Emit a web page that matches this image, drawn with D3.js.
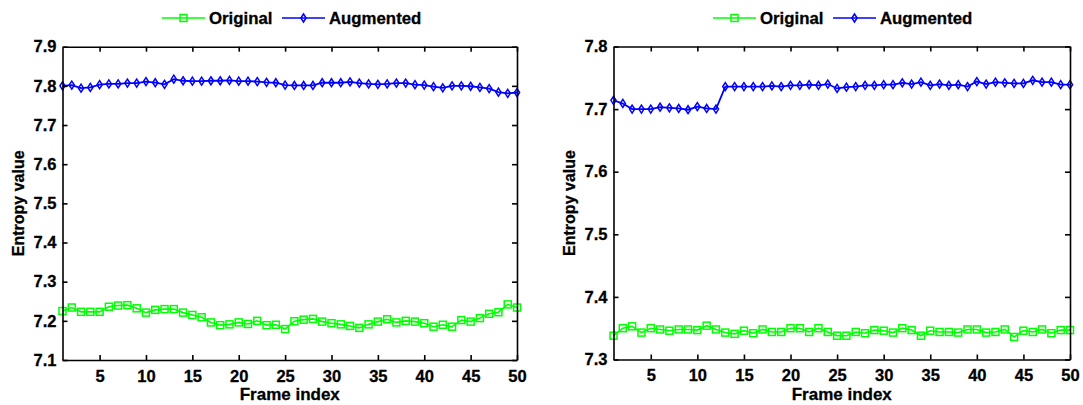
<!DOCTYPE html>
<html>
<head>
<meta charset="utf-8">
<script src="https://cdn.jsdelivr.net/npm/d3@7"></script>
<style>
  html, body { margin: 0; padding: 0; background: #fff; }
  svg { display: block; }
  text { font-family: "Liberation Sans", Arial, sans-serif; font-weight: bold; fill: #000; }
</style>
</head>
<body>
<svg id="chart" width="1083" height="405"></svg>
<script>
// Frame indices 1..50
const frames = [1,2,3,4,5,6,7,8,9,10,11,12,13,14,15,16,17,18,19,20,21,22,23,24,25,
                26,27,28,29,30,31,32,33,34,35,36,37,38,39,40,41,42,43,44,45,46,47,48,49,50];
const xTicks = [5,10,15,20,25,30,35,40,45,50];

// Sequence A: entropy per frame
const leftOriginal = [7.225,7.234,7.223,7.223,7.223,7.236,7.239,7.240,7.232,7.221,
                      7.228,7.230,7.230,7.221,7.215,7.209,7.196,7.189,7.191,7.196,
                      7.192,7.200,7.189,7.190,7.179,7.199,7.203,7.205,7.198,7.194,
                      7.191,7.187,7.182,7.191,7.198,7.204,7.196,7.200,7.198,7.194,
                      7.185,7.190,7.185,7.202,7.198,7.207,7.218,7.222,7.242,7.234];
const leftAugmented = [7.800,7.802,7.794,7.796,7.803,7.805,7.805,7.807,7.807,7.811,
                       7.808,7.804,7.817,7.813,7.812,7.812,7.813,7.813,7.814,7.812,
                       7.812,7.811,7.809,7.808,7.802,7.801,7.801,7.801,7.808,7.808,
                       7.808,7.810,7.807,7.805,7.804,7.805,7.807,7.807,7.803,7.802,
                       7.798,7.795,7.800,7.800,7.799,7.796,7.793,7.784,7.781,7.783];
const leftYTicks = [7.1,7.2,7.3,7.4,7.5,7.6,7.7,7.8,7.9];

// Sequence B: entropy per frame
const rightOriginal = [7.338,7.350,7.353,7.343,7.350,7.348,7.346,7.348,7.348,7.347,
                       7.354,7.348,7.343,7.341,7.346,7.342,7.348,7.344,7.344,7.350,
                       7.350,7.344,7.350,7.344,7.338,7.338,7.344,7.342,7.347,7.346,
                       7.343,7.350,7.347,7.338,7.346,7.344,7.344,7.343,7.348,7.348,
                       7.343,7.344,7.348,7.336,7.346,7.344,7.348,7.342,7.347,7.347];
const rightAugmented = [7.714,7.709,7.700,7.700,7.700,7.703,7.702,7.701,7.699,7.704,
                        7.701,7.700,7.736,7.736,7.736,7.736,7.736,7.737,7.736,7.738,
                        7.738,7.739,7.738,7.740,7.733,7.735,7.736,7.738,7.738,7.739,
                        7.739,7.742,7.740,7.743,7.738,7.740,7.738,7.739,7.736,7.744,
                        7.740,7.743,7.742,7.741,7.741,7.746,7.743,7.743,7.739,7.739];
const rightYTicks = [7.3,7.4,7.5,7.6,7.7,7.8];

const seriesNames = ["Original", "Augmented"];
const seriesColors = ["#00ff00", "#0000ff"];

const svg = d3.select("#chart");

function drawPanel(cfg) {
  const g = svg.append("g");
  const x = d3.scaleLinear().domain([1, 50]).range([cfg.left, cfg.right]);
  const y = d3.scaleLinear().domain(cfg.yDomain).range([cfg.bottom, cfg.top]);

  // data lines and markers
  const line = d3.line().x((d, i) => x(frames[i])).y(d => y(d));

  const orig = g.append("g");
  orig.append("path").datum(cfg.original)
    .attr("d", line).attr("fill", "none")
    .attr("stroke", seriesColors[0]).attr("stroke-width", 1.6);
  orig.selectAll("rect").data(cfg.original).enter().append("rect")
    .attr("x", (d, i) => x(frames[i]) - 3.5).attr("y", d => y(d) - 3.5)
    .attr("width", 7).attr("height", 7)
    .attr("fill", "none").attr("stroke", seriesColors[0]).attr("stroke-width", 1.5);

  const aug = g.append("g");
  aug.append("path").datum(cfg.augmented)
    .attr("d", line).attr("fill", "none")
    .attr("stroke", seriesColors[1]).attr("stroke-width", 1.8);
  aug.selectAll("path.mk").data(cfg.augmented).enter().append("path")
    .attr("class", "mk")
    .attr("d", (d, i) => {
      const cx = x(frames[i]), cy = y(d);
      return `M${cx},${cy - 4}L${cx + 2.6},${cy}L${cx},${cy + 4}L${cx - 2.6},${cy}Z`;
    })
    .attr("fill", "none").attr("stroke", seriesColors[1]).attr("stroke-width", 1.5);

  // axes with inward ticks on all four sides
  const axStyle = sel => {
    sel.selectAll("path.domain").attr("stroke", "#000").attr("stroke-width", 1.6);
    sel.selectAll(".tick line").attr("stroke", "#000").attr("stroke-width", 1.6);
    sel.selectAll(".tick text").attr("font-size", 16.5).attr("font-family", "Liberation Sans, Arial, sans-serif")
      .attr("font-weight", "bold").attr("fill", "#000")
      .attr("stroke", "#000").attr("stroke-width", 0.3);
  };

  g.append("g").attr("transform", `translate(0,${cfg.bottom})`)
    .call(d3.axisBottom(x).tickValues(xTicks).tickSize(-5).tickSizeOuter(0).tickPadding(10).tickFormat(d3.format("d")))
    .call(axStyle);
  g.append("g").attr("transform", `translate(0,${cfg.top})`)
    .call(d3.axisTop(x).tickValues(xTicks).tickSize(-5).tickSizeOuter(0).tickFormat(""))
    .call(axStyle);
  g.append("g").attr("transform", `translate(${cfg.left},0)`)
    .call(d3.axisLeft(y).tickValues(cfg.yTicks).tickSize(-5).tickSizeOuter(0).tickPadding(6).tickFormat(d3.format(".1f")))
    .call(axStyle);
  g.append("g").attr("transform", `translate(${cfg.right},0)`)
    .call(d3.axisRight(y).tickValues(cfg.yTicks).tickSize(-5).tickSizeOuter(0).tickFormat(""))
    .call(axStyle);

  // axis titles
  g.append("text")
    .attr("x", (cfg.left + cfg.right) / 2).attr("y", 400)
    .attr("text-anchor", "middle").attr("font-size", 17)
    .attr("stroke", "#000").attr("stroke-width", 0.3)
    .text("Frame index");
  g.append("text")
    .attr("transform", `translate(${cfg.yTitleX},${(cfg.top + cfg.bottom) / 2}) rotate(-90)`)
    .attr("text-anchor", "middle").attr("font-size", 16)
    .attr("stroke", "#000").attr("stroke-width", 0.3)
    .text("Entropy value");

  // legend above the plot
  const lg = g.append("g").attr("transform", `translate(${cfg.legendX},18)`);
  seriesNames.forEach((name, k) => {
    const ox = k === 0 ? 0 : 120;
    lg.append("line").attr("x1", ox).attr("x2", ox + 43).attr("y1", 0).attr("y2", 0)
      .attr("stroke", seriesColors[k]).attr("stroke-width", 1.6);
    if (k === 0) {
      lg.append("rect").attr("x", ox + 21.5 - 3.5).attr("y", -3.5).attr("width", 7).attr("height", 7)
        .attr("fill", "none").attr("stroke", seriesColors[k]).attr("stroke-width", 1.5);
    } else {
      const cx = ox + 21.5;
      lg.append("path").attr("d", `M${cx},-4L${cx + 2.6},0L${cx},4L${cx - 2.6},0Z`)
        .attr("fill", "none").attr("stroke", seriesColors[k]).attr("stroke-width", 1.5);
    }
    lg.append("text").attr("x", ox + 47).attr("y", 6).attr("font-size", 16.8)
      .attr("stroke", "#000").attr("stroke-width", 0.3)
      .text(name);
  });
}

drawPanel({
  left: 62.5, right: 517, top: 46.7, bottom: 360,
  yDomain: [7.1, 7.9], yTicks: leftYTicks,
  original: leftOriginal, augmented: leftAugmented,
  yTitleX: 24, legendX: 162
});

drawPanel({
  left: 613.5, right: 1070, top: 46.5, bottom: 359.5,
  yDomain: [7.3, 7.8], yTicks: rightYTicks,
  original: rightOriginal, augmented: rightAugmented,
  yTitleX: 575, legendX: 713
});
</script>
</body>
</html>
